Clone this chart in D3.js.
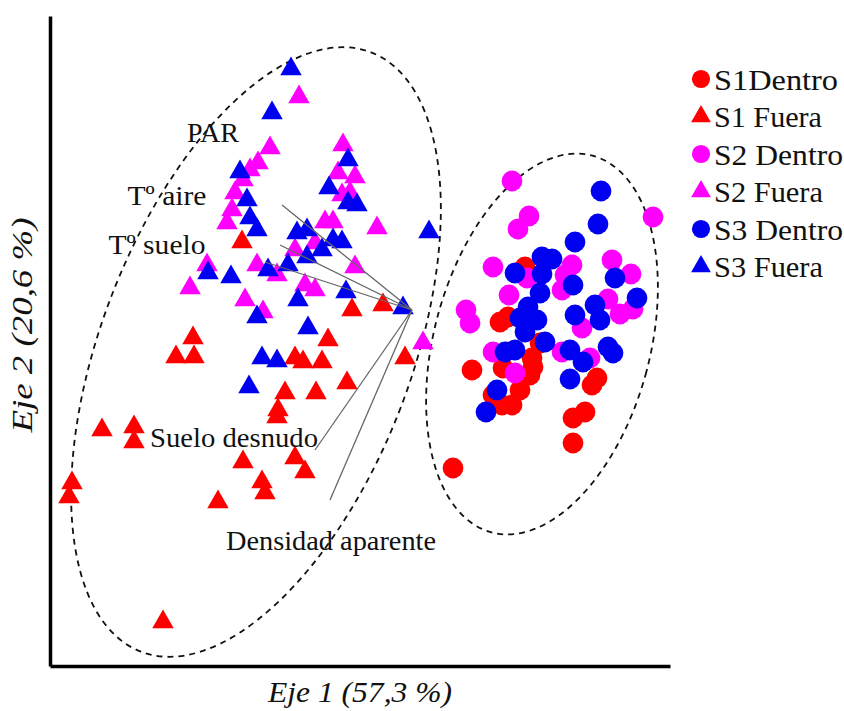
<!DOCTYPE html>
<html>
<head>
<meta charset="utf-8">
<script src="https://cdn.jsdelivr.net/npm/d3@7/dist/d3.min.js"></script>
<style>
  html, body { margin: 0; padding: 0; background: #fff; }
  svg { display: block; }
  text { font-family: "Liberation Serif", "Times New Roman", serif; fill: #111; }
</style>
</head>
<body>
<svg id="chart" width="844" height="711"></svg>
<script>
// PCA scores (Eje 1, Eje 2) for each group
const s1Dentro = [
  [4.75,3.99],[4.50,3.44],[4.58,3.49],[4.90,3.23],[4.22,2.96],[4.53,2.98],[4.82,3.08],
  [4.83,2.99],[4.80,2.91],[5.47,2.88],[5.42,2.81],[4.70,2.76],[4.43,2.71],[4.52,2.61],
  [4.62,2.61],[5.35,2.54],[5.23,2.48],[5.23,2.23],[4.03,1.98]
];
const s1Fuera = [
  [1.92,4.24],[3.02,3.56],[3.33,3.61],[2.78,3.26],[2.45,3.08],[2.53,3.04],[2.72,3.04],
  [3.55,3.08],[2.97,2.83],[2.35,2.73],[2.66,2.73],[2.28,2.56],[2.27,2.49],[1.43,3.28],
  [1.26,3.09],[1.44,3.09],[0.52,2.36],[0.84,2.39],[0.84,2.24],[0.22,1.83],[0.19,1.69],
  [1.93,2.04],[2.45,2.08],[2.55,1.94],[2.12,1.84],[2.15,1.73],[1.68,1.64],[1.13,0.44]
];
const s2Dentro = [
  [4.62,4.85],[6.03,4.49],[4.79,4.50],[4.68,4.37],[4.43,3.99],[5.22,4.01],[5.62,4.06],
  [5.81,3.92],[4.77,3.88],[5.15,3.91],[4.59,3.71],[5.12,3.76],[5.58,3.67],[4.16,3.56],
  [4.20,3.43],[5.70,3.52],[5.83,3.57],[5.32,3.38],[4.43,3.14],[5.12,3.14],[5.40,3.08],
  [4.65,2.93]
];
const s2Fuera = [
  [2.49,5.69],[2.20,5.18],[2.93,5.21],[2.08,5.03],[2.00,4.96],[1.93,4.86],[1.85,4.73],
  [1.82,4.56],[1.77,4.43],[2.88,4.93],[3.05,4.89],[2.92,4.71],[3.00,4.73],[2.75,4.44],
  [2.83,4.44],[3.27,4.38],[2.65,4.23],[2.45,4.16],[3.05,3.99],[2.07,4.01],[1.57,4.01],
  [2.27,3.91],[1.40,3.78],[2.55,3.81],[2.65,3.76],[1.95,3.66],[2.13,3.54],[3.73,3.23]
];
const s3Dentro = [
  [5.51,4.75],[5.48,4.42],[5.25,4.24],[4.92,4.09],[5.02,4.07],[4.65,3.93],[4.92,3.92],
  [5.65,3.88],[5.23,3.81],[4.90,3.73],[5.87,3.68],[5.45,3.61],[4.78,3.59],[4.70,3.48],
  [4.87,3.46],[5.25,3.51],[5.50,3.46],[4.75,3.34],[4.95,3.24],[4.55,3.14],[4.65,3.16],
  [5.20,3.16],[5.58,3.19],[5.63,3.13],[5.33,3.04],[5.20,2.87],[4.47,2.76],[4.36,2.54]
];
const s3Fuera = [
  [2.41,5.97],[2.22,5.53],[1.90,4.94],[2.98,5.06],[2.79,4.78],[2.98,4.63],[3.07,4.61],
  [3.79,4.34],[1.97,4.66],[2.00,4.48],[2.07,4.36],[2.47,4.33],[2.57,4.36],[2.83,4.26],
  [2.92,4.24],[2.72,4.16],[2.57,4.09],[2.38,4.01],[2.18,3.96],[1.58,3.93],[1.81,3.89],
  [2.48,3.66],[2.96,3.74],[3.53,3.58],[2.07,3.49],[2.58,3.38],[2.12,3.08],[2.27,3.05],
  [1.99,2.79]
];

const groupNames = ["S1Dentro", "S1 Fuera", "S2 Dentro", "S2 Fuera", "S3 Dentro", "S3 Fuera"];
const groupData = [s1Dentro, s1Fuera, s2Dentro, s2Fuera, s3Dentro, s3Fuera];
const groupColors = ["#ff0000", "#ff0000", "#ff00ff", "#ff00ff", "#0000f0", "#0000f0"];
const groupShapes = ["circle", "triangle", "circle", "triangle", "circle", "triangle"];

// Variable loadings: common origin and arrow tips
const vectorOrigin = [3.62, 3.56];
const vectorTips = [[2.32,4.61],[2.30,4.21],[2.15,4.04],[2.65,2.16],[2.80,1.66]];
const varLabels = ["PAR", "T\u00ba aire", "T\u00ba suelo", "Suelo desnudo", "Densidad aparente"];
const varLabelPos = [[1.63,5.34],[1.17,4.71],[1.07,4.22],[1.84,2.29],[2.81,1.26]];
const varLabelWidth = [52, 79, 97, 168, 210];

// Group ellipses: centre, semi-axes (x, y) and rotation in degrees
const ellipseCenters = [[2.06,3.14],[4.92,3.22]];
const ellipseRadii = [[1.55,3.21],[1.08,1.95]];
const ellipseAngles = [21, 15];

const axisTitles = ["Eje 1 (57,3 %)", "Eje 2 (20,6 %)"];

const svg = d3.select("#chart");
const x = d3.scaleLinear().domain([0, 6.2]).range([50, 670]);
const y = d3.scaleLinear().domain([0, 6.5]).range([666, 16]);
const unitX = x(1) - x(0), unitY = y(0) - y(1);

// Axes: plain frame lines on the left and bottom, no ticks
svg.append("g").attr("transform", `translate(0,${y(0)})`)
  .call(d3.axisBottom(x).tickValues([]).tickSizeOuter(0))
  .call(g => g.select(".domain").attr("stroke", "#000").attr("stroke-width", 3.5));
svg.append("g").attr("transform", `translate(${x(0)},0)`)
  .call(d3.axisLeft(y).tickValues([]).tickSizeOuter(0))
  .call(g => g.select(".domain").attr("stroke", "#000").attr("stroke-width", 3.5));

// Dashed ellipses around the two groups
ellipseCenters.forEach((c, i) => {
  svg.append("ellipse")
    .attr("transform", `translate(${x(c[0])},${y(c[1])}) rotate(${ellipseAngles[i]})`)
    .attr("rx", ellipseRadii[i][0] * unitX)
    .attr("ry", ellipseRadii[i][1] * unitY)
    .attr("fill", "none")
    .attr("stroke", "#111")
    .attr("stroke-width", 1.8)
    .attr("stroke-dasharray", "6,5");
});

// Points
const symCircle = d3.symbol().type(d3.symbolCircle).size(340);
const symTriangle = d3.symbol().type(d3.symbolTriangle).size(200);
groupData.forEach((pts, i) => {
  svg.append("g").selectAll("path").data(pts).join("path")
    .attr("d", groupShapes[i] === "circle" ? symCircle() : symTriangle())
    .attr("transform", d => `translate(${x(d[0])},${y(d[1])})`)
    .attr("fill", groupColors[i]);
});

// Loading vectors
svg.append("g").selectAll("line").data(vectorTips).join("line")
  .attr("x1", x(vectorOrigin[0])).attr("y1", y(vectorOrigin[1]))
  .attr("x2", d => x(d[0])).attr("y2", d => y(d[1]))
  .attr("stroke", "#666").attr("stroke-width", 1.3);

svg.append("g").selectAll("text").data(varLabels).join("text")
  .attr("x", (d, i) => x(varLabelPos[i][0]))
  .attr("y", (d, i) => y(varLabelPos[i][1]))
  .attr("text-anchor", "middle")
  .attr("dominant-baseline", "central")
  .attr("font-size", 28)
  .attr("textLength", (d, i) => varLabelWidth[i])
  .attr("lengthAdjust", "spacingAndGlyphs")
  .text(d => d);

// Axis titles
svg.append("text")
  .attr("x", 360).attr("y", 692)
  .attr("text-anchor", "middle").attr("dominant-baseline", "central")
  .attr("font-size", 29).attr("font-style", "italic")
  .attr("textLength", 184).attr("lengthAdjust", "spacingAndGlyphs")
  .text(axisTitles[0]);
svg.append("text")
  .attr("transform", "translate(22,325) rotate(-90)")
  .attr("text-anchor", "middle").attr("dominant-baseline", "central")
  .attr("font-size", 29).attr("font-style", "italic")
  .attr("textLength", 215).attr("lengthAdjust", "spacingAndGlyphs")
  .text(axisTitles[1]);

// Legend
const legend = svg.append("g");
const legendWidths = [124, 108, 129, 109, 129, 109];
groupNames.forEach((name, i) => {
  const ly = 79 + i * 37.5;
  legend.append("path")
    .attr("d", groupShapes[i] === "circle"
      ? d3.symbol().type(d3.symbolCircle).size(260)()
      : d3.symbol().type(d3.symbolTriangle).size(170)())
    .attr("transform", `translate(701,${ly})`)
    .attr("fill", groupColors[i]);
  legend.append("text")
    .attr("x", 714).attr("y", ly)
    .attr("dominant-baseline", "central")
    .attr("font-size", 30)
    .attr("textLength", legendWidths[i]).attr("lengthAdjust", "spacingAndGlyphs")
    .text(name);
});
</script>
</body>
</html>
